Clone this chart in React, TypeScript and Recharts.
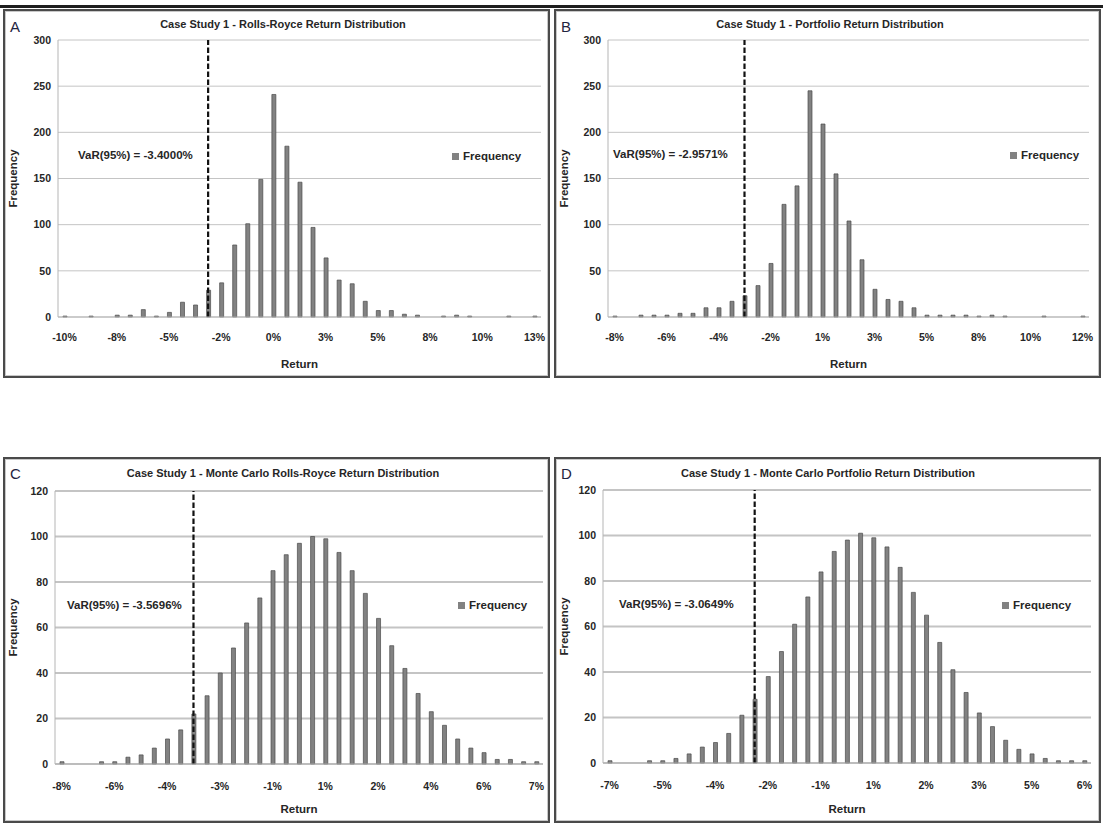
import React from 'react';
import { BarChart, Bar, XAxis, YAxis, CartesianGrid, ReferenceLine, Legend } from 'recharts';

// ---- data ----
const bins = [0, 1, 2, 3, 4, 5, 6, 7, 8, 9, 10, 11, 12, 13, 14, 15, 16, 17, 18, 19, 20, 21, 22, 23, 24, 25, 26, 27, 28, 29, 30, 31, 32, 33, 34, 35, 36];

const freqA = [1, 0, 1, 0, 2, 2, 8, 1, 5, 16, 13, 29, 37, 78, 101, 149, 241, 185, 146, 97, 64, 40, 36, 17, 7, 7, 3, 2, 0, 1, 2, 1, 0, 0, 1, 0, 1];
const freqB = [1, 0, 2, 2, 2, 4, 4, 10, 10, 17, 23, 34, 58, 122, 142, 245, 209, 155, 104, 62, 30, 19, 17, 10, 2, 2, 2, 2, 1, 2, 1, 0, 0, 1, 0, 0, 1];
const freqC = [1, 0, 0, 1, 1, 3, 4, 7, 11, 15, 22, 30, 40, 51, 62, 73, 85, 92, 97, 100, 99, 93, 85, 75, 64, 52, 42, 31, 23, 17, 11, 7, 5, 2, 2, 1, 1];
const freqD = [1, 0, 0, 1, 1, 2, 4, 7, 9, 13, 21, 28, 38, 49, 61, 73, 84, 93, 98, 101, 99, 95, 86, 75, 65, 53, 41, 31, 22, 16, 10, 6, 4, 2, 1, 1, 1];

const tickLabelsA = ['-10%', '-8%', '-5%', '-2%', '0%', '3%', '5%', '8%', '10%', '13%'];
const tickLabelsB = ['-8%', '-6%', '-4%', '-2%', '1%', '3%', '5%', '8%', '10%', '12%'];
const tickLabelsC = ['-8%', '-6%', '-4%', '-3%', '-1%', '1%', '2%', '4%', '6%', '7%'];
const tickLabelsD = ['-7%', '-5%', '-4%', '-2%', '-1%', '1%', '2%', '3%', '5%', '6%'];

const yTicksHist = [0, 50, 100, 150, 200, 250, 300];
const yTicksMC = [0, 20, 40, 60, 80, 100, 120];

const varBinA = 11;
const varBinB = 10;
const varBinC = 10;
const varBinD = 11;

const titles = [
  'Case Study 1 - Rolls-Royce Return Distribution',
  'Case Study 1 - Portfolio Return Distribution',
  'Case Study 1 - Monte Carlo Rolls-Royce Return Distribution',
  'Case Study 1 - Monte Carlo Portfolio Return Distribution',
];
const varTexts = ['VaR(95%) = -3.4000%', 'VaR(95%) = -2.9571%', 'VaR(95%) = -3.5696%', 'VaR(95%) = -3.0649%'];
const letters = ['A', 'B', 'C', 'D'];

// ---- layout / styling ----
const FONT = "'Liberation Sans', Arial, sans-serif";
const TEXT = '#262626';

type Spec = {
  letter: string;
  title: string;
  varText: string;
  freq: number[];
  tickLabels: string[];
  yTicks: number[];
  varBin: number;
  frame: { l: number; t: number; r: number; b: number };
  plot: { L: number; T: number; R: number; B: number };
  titleX: number;
  titleY: number;
  letterPos: { x: number; y: number };
  varPos: { x: number; y: number };
  legendPos: { x: number; y: number };
  gridW: number;
  xTickMargin: number;
};

const specs: Spec[] = [
  {
    letter: letters[0], title: titles[0], varText: varTexts[0], freq: freqA, tickLabels: tickLabelsA,
    yTicks: yTicksHist, varBin: varBinA,
    frame: { l: 3, t: 9, r: 550, b: 378 }, plot: { L: 58, T: 40, R: 541, B: 317 },
    titleX: 283, titleY: 24, letterPos: { x: 10, y: 19 }, varPos: { x: 78, y: 155 }, legendPos: { x: 452, y: 155 },
    gridW: 1, xTickMargin: 17,
  },
  {
    letter: letters[1], title: titles[1], varText: varTexts[1], freq: freqB, tickLabels: tickLabelsB,
    yTicks: yTicksHist, varBin: varBinB,
    frame: { l: 554, t: 9, r: 1101, b: 378 }, plot: { L: 608, T: 40, R: 1089, B: 317 },
    titleX: 830, titleY: 24, letterPos: { x: 561, y: 19 }, varPos: { x: 613, y: 154 }, legendPos: { x: 1010, y: 154 },
    gridW: 1, xTickMargin: 17,
  },
  {
    letter: letters[2], title: titles[2], varText: varTexts[2], freq: freqC, tickLabels: tickLabelsC,
    yTicks: yTicksMC, varBin: varBinC,
    frame: { l: 3, t: 457, r: 550, b: 823 }, plot: { L: 55, T: 491, R: 543, B: 764 },
    titleX: 283, titleY: 473, letterPos: { x: 10, y: 466 }, varPos: { x: 67, y: 605 }, legendPos: { x: 458, y: 604 },
    gridW: 2, xTickMargin: 19,
  },
  {
    letter: letters[3], title: titles[3], varText: varTexts[3], freq: freqD, tickLabels: tickLabelsD,
    yTicks: yTicksMC, varBin: varBinD,
    frame: { l: 554, t: 457, r: 1101, b: 823 }, plot: { L: 603, T: 490, R: 1091, B: 763 },
    titleX: 828, titleY: 473, letterPos: { x: 561, y: 466 }, varPos: { x: 619, y: 604 }, legendPos: { x: 1002, y: 604 },
    gridW: 2, xTickMargin: 19,
  },
];

function Panel({ s }: { s: Spec }) {
  const { frame, plot } = s;
  const w = frame.r - frame.l;
  const h = frame.b - frame.t;
  const data = bins.map((b, i) => ({ bin: b, Frequency: s.freq[i] }));
  const yMax = s.yTicks[s.yTicks.length - 1];
  const tickStyle = { fontSize: 10.5, fontWeight: 700, fill: TEXT, fontFamily: FONT };
  return (
    <>
      <div
        style={{
          position: 'absolute', left: frame.l, top: frame.t, width: w, height: h, boxSizing: 'border-box',
          border: '2px solid #4a4a4a', boxShadow: 'inset 0 0 0 1px #c8c8c8', background: '#fff',
        }}
      />
      <div style={{ position: 'absolute', left: frame.l, top: frame.t, width: w, height: h }}>
        <BarChart
          width={w}
          height={h}
          data={data}
          margin={{ top: plot.T - frame.t, right: frame.r - plot.R, bottom: 0, left: 0 }}
        >
          <CartesianGrid vertical={false} stroke="#c4c4c4" strokeWidth={s.gridW} />
          <XAxis
            dataKey="bin"
            type="category"
            interval={3}
            height={frame.b - plot.B}
            tickLine={false}
            tickSize={0}
            tickMargin={s.xTickMargin}
            axisLine={{ stroke: '#b5b5b5' }}
            tick={tickStyle}
            tickFormatter={(v: number) => (v % 4 === 0 ? s.tickLabels[v / 4] : '')}
            label={{ value: 'Return', position: 'insideBottom', offset: 10, style: { fontSize: 11.5, fontWeight: 700, fill: TEXT, fontFamily: FONT } }}
          />
          <YAxis
            width={plot.L - frame.l}
            domain={[0, yMax]}
            ticks={s.yTicks}
            tickLine={false}
            tickSize={0}
            tickMargin={7}
            axisLine={{ stroke: '#b5b5b5' }}
            tick={tickStyle}
            label={{ value: 'Frequency', angle: -90, position: 'insideLeft', offset: 10, style: { textAnchor: 'middle', fontSize: 11.5, fontWeight: 700, fill: TEXT, fontFamily: FONT } }}
          />
          <Legend
            layout="horizontal"
            verticalAlign="middle"
            align="center"
            iconType="square"
            iconSize={7}
            wrapperStyle={{ position: 'absolute', left: s.legendPos.x - frame.l, top: s.legendPos.y - frame.t - 8, width: 'auto', lineHeight: '16px' }}
            formatter={(value: string) => (
              <span style={{ color: TEXT, fontWeight: 700, fontSize: 11.5, fontFamily: FONT }}>{value}</span>
            )}
          />
          <Bar dataKey="Frequency" barSize={4} fill="#828282" stroke="#4a4a4a" strokeWidth={0.7} isAnimationActive={false} />
          <ReferenceLine x={s.varBin} stroke="#111" strokeWidth={2.2} strokeDasharray="5.5 2.5" ifOverflow="extendDomain" />
        </BarChart>
      </div>
      <div
        style={{
          position: 'absolute', left: s.titleX - 200, top: s.titleY - 7, width: 400, textAlign: 'center',
          fontFamily: FONT, fontSize: 11, fontWeight: 700, color: TEXT, lineHeight: '14px', whiteSpace: 'nowrap',
        }}
      >
        {s.title}
      </div>
      <div
        style={{
          position: 'absolute', left: s.letterPos.x, top: s.letterPos.y, fontFamily: FONT, fontSize: 15,
          color: '#1f2440', lineHeight: '16px',
        }}
      >
        {s.letter}
      </div>
      <div
        style={{
          position: 'absolute', left: s.varPos.x, top: s.varPos.y - 8, fontFamily: FONT, fontSize: 11.5,
          fontWeight: 700, color: TEXT, lineHeight: '16px', whiteSpace: 'nowrap',
        }}
      >
        {s.varText}
      </div>
    </>
  );
}

export default function App() {
  return (
    <div style={{ position: 'absolute', left: 0, top: 0, width: 1103, height: 825, background: '#fff', overflow: 'hidden' }}>
      <div style={{ position: 'absolute', left: 0, top: 5, width: 1103, height: 3, background: '#1e1e1e' }} />
      {specs.map((s) => (
        <Panel key={s.letter} s={s} />
      ))}
    </div>
  );
}
